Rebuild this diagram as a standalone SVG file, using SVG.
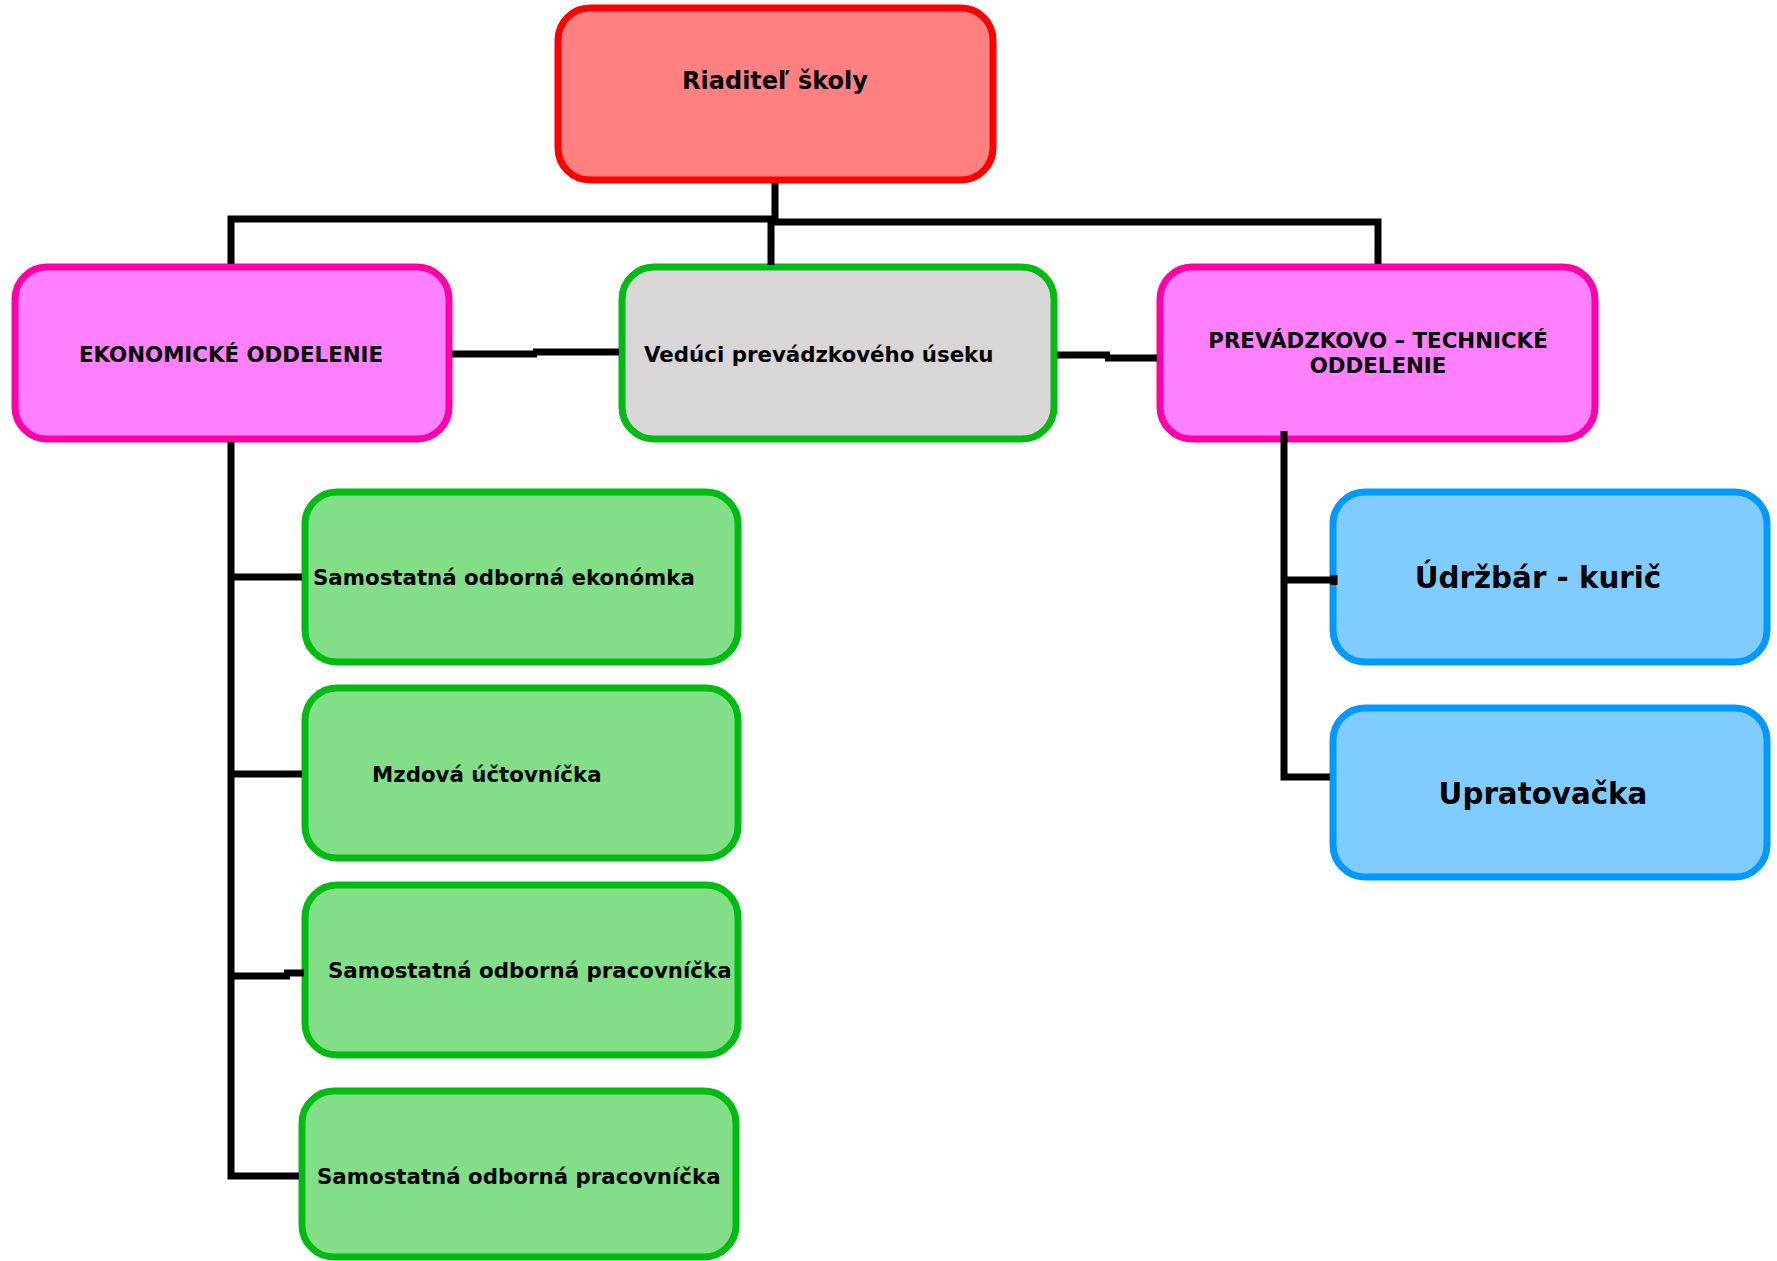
<svg xmlns="http://www.w3.org/2000/svg" width="1777" height="1261" viewBox="0 0 1777 1261">
<style>
.box{stroke-width:7}
.red{fill:#ff8080;stroke:#ff0000}
.pink{fill:#ff80ff;stroke:#ff00a8}
.gray{fill:#d8d6d7;stroke:#00bb11}
.green{fill:#82df87;stroke:#00bb11}
.blue{fill:#80ccff;stroke:#0099ff}
text{font-family:"DejaVu Sans","Verdana",sans-serif;font-weight:bold;fill:#000}
.t16{font-size:21.33px}
.t18{font-size:24px}
.t22{font-size:29.33px}
.c{text-anchor:middle}
.conn{fill:none;stroke:#000;stroke-width:7}
</style>
<rect width="1777" height="1261" fill="#fff"/>
<g id="riaditel">
<rect class="box red" x="558" y="8" width="435" height="172" rx="32"/>
<text class="t18 c" x="775" y="89">Riaditeľ školy</text>
</g>
<g id="ekonomicke">
<rect class="box pink" x="15" y="267" width="434" height="172" rx="32"/>
<text class="t16 c" x="231" y="362">EKONOMICKÉ ODDELENIE</text>
</g>
<g id="veduci">
<rect class="box gray" x="622" y="267" width="432" height="172" rx="32"/>
<text class="t16" x="644" y="362">Vedúci prevádzkového úseku</text>
</g>
<g id="prevadzkovo">
<rect class="box pink" x="1160" y="267" width="435" height="172" rx="32"/>
<text class="t16 c" x="1378" y="348">PREVÁDZKOVO – TECHNICKÉ</text>
<text class="t16 c" x="1378" y="373">ODDELENIE</text>
</g>
<g id="ekonomka">
<rect class="box green" x="305" y="492" width="433" height="170" rx="32"/>
<text class="t16" x="313" y="585">Samostatná odborná ekonómka</text>
</g>
<g id="mzdova">
<rect class="box green" x="305" y="688" width="433" height="170" rx="32"/>
<text class="t16" x="372" y="782">Mzdová účtovníčka</text>
</g>
<g id="pracovnicka1">
<rect class="box green" x="305" y="885" width="433" height="170" rx="32"/>
<text class="t16" x="328" y="978">Samostatná odborná pracovníčka</text>
</g>
<g id="pracovnicka2">
<rect class="box green" x="302" y="1091" width="434" height="166" rx="32"/>
<text class="t16" x="317" y="1184">Samostatná odborná pracovníčka</text>
</g>
<g id="udrzbar">
<rect class="box blue" x="1333" y="492" width="434" height="170" rx="32"/>
<text class="t22 c" x="1538" y="588">Údržbár - kurič</text>
</g>
<g id="upratovacka">
<rect class="box blue" x="1333" y="708" width="434" height="169" rx="32"/>
<text class="t22 c" x="1543" y="804">Upratovačka</text>
</g>
<g id="connectors">
<polyline class="conn" points="775,183 775,219 231,219 231,264"/>
<polyline class="conn" points="775,219 775,222 1378,222 1378,264"/>
<polyline class="conn" points="771,222 771,265"/>
<polyline class="conn" points="452,354 537,354"/>
<polyline class="conn" points="533,352 619,352"/>
<polyline class="conn" points="1057,355 1110,355"/>
<polyline class="conn" points="1105,358 1157,358"/>
<polyline class="conn" points="231,442 231,1176 299,1176"/>
<polyline class="conn" points="231,577 302,577"/>
<polyline class="conn" points="231,774 302,774"/>
<polyline class="conn" points="231,976 290,976"/>
<polyline class="conn" points="284,973 304,973"/>
<polyline class="conn" points="1284,431 1284,777 1330,777"/>
<polyline class="conn" points="1284,580 1334,580"/>
<polyline class="conn" points="1334,575 1334,585"/>
</g>
</svg>
